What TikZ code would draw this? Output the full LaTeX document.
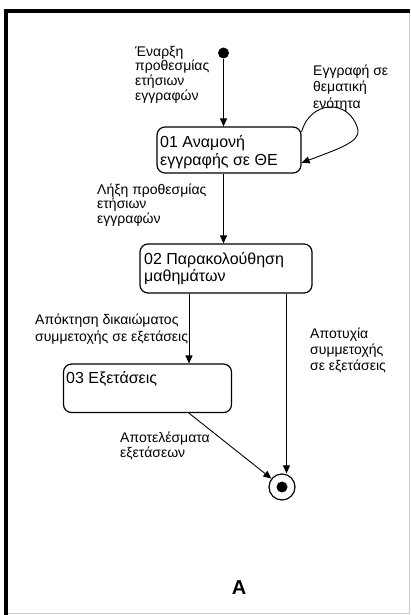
\documentclass[tikz,border=0pt]{standalone}
\usepackage{fontspec}
\setmainfont{Liberation Sans}
\usetikzlibrary{arrows.meta}

\begin{document}
\begin{tikzpicture}[x=1pt, y=-1pt,
  arr/.style={line width=0.9pt, -{Triangle[length=8pt,width=7pt]}},
  statebox/.style={draw, rounded corners=8pt, line width=1.2pt, inner sep=0pt},
  statetext/.style={anchor=north west, inner sep=0pt, align=left,
    font=\fontsize{16}{17.5}\selectfont},
  trans/.style={anchor=north west, inner sep=0pt, align=left},
]
\useasboundingbox (0,0) rectangle (410,615);

% frame
\draw[black!20, line width=1pt] (409.3,11) -- (409.3,613.8) -- (6,613.8);
\draw[line width=3.5pt] (6.2,615) -- (6.2,11.2) -- (410,11.2);

% pseudo-states
\node[circle, fill, minimum size=11pt, inner sep=0pt] (start) at (223.5,53) {};
\node[circle, draw, line width=1.2pt, minimum size=26pt, inner sep=0pt] (fin) at (282,487) {};
\fill (fin.center) circle (5.5);

% states
\node[statebox, minimum width=144pt, minimum height=46pt] (s1) at (229,150) {};
\node[statebox, minimum width=172pt, minimum height=49pt] (s2) at (226,268.5) {};
\node[statebox, minimum width=168pt, minimum height=48.5pt] (s3) at (147.5,388.3) {};

\node[statetext] (t1) at (160,135.5) {01 Αναμονή\\εγγραφής σε ΘΕ};
\node[statetext] (t2) at (144,252) {02 Παρακολούθηση\\μαθημάτων};
\node[statetext] (t3) at (66,371) {03 Εξετάσεις};

% transitions
\coordinate (kx) at (189,0);
\coordinate (fx) at (286.5,0);
\draw[arr] (start) -- (start |- s1.north);
\draw[arr] (s1.south -| start) -- (s2.north -| start);
\draw[arr] (s1.14) .. controls (310,100) and (350,98) .. (358,130)
                   .. controls (360,142) and (338,149) .. (s1.-10);
\draw[arr] (s2.south -| kx) -- (s3.north -| kx);
\draw[arr] (s2.south -| fx) -- (fx |- fin.north);
\draw[arr] (s3.south -| kx) -- (fin);

% transition labels
\node[trans, font=\fontsize{14}{14.8}\selectfont] (l1) at (135,45.7) {Έναρξη\\προθεσμίας\\ετήσιων\\εγγραφών};
\node[trans, font=\fontsize{14}{16.3}\selectfont] (l2) at (313,64.7) {Εγγραφή σε\\θεματική\\ενότητα};
\node[trans, font=\fontsize{14}{13.4}\selectfont] (l3) at (97,183.7) {Λήξη προθεσμίας\\ετήσιων\\εγγραφών};
\node[trans, font=\fontsize{14}{17.3}\selectfont] (l4) at (35,313.7) {Απόκτηση δικαιώματος\\συμμετοχής σε εξετάσεις};
\node[trans, font=\fontsize{14}{16}\selectfont] (l5) at (310,328) {Αποτυχία\\συμμετοχής\\σε εξετάσεις};
\node[trans, font=\fontsize{14}{15}\selectfont] (l6) at (120,431.4) {Αποτελέσματα\\εξετάσεων};

\node[font=\fontsize{20}{24}\bfseries\selectfont, inner sep=0pt] (lab) at (239,588) {A};
\end{tikzpicture}
\end{document}
